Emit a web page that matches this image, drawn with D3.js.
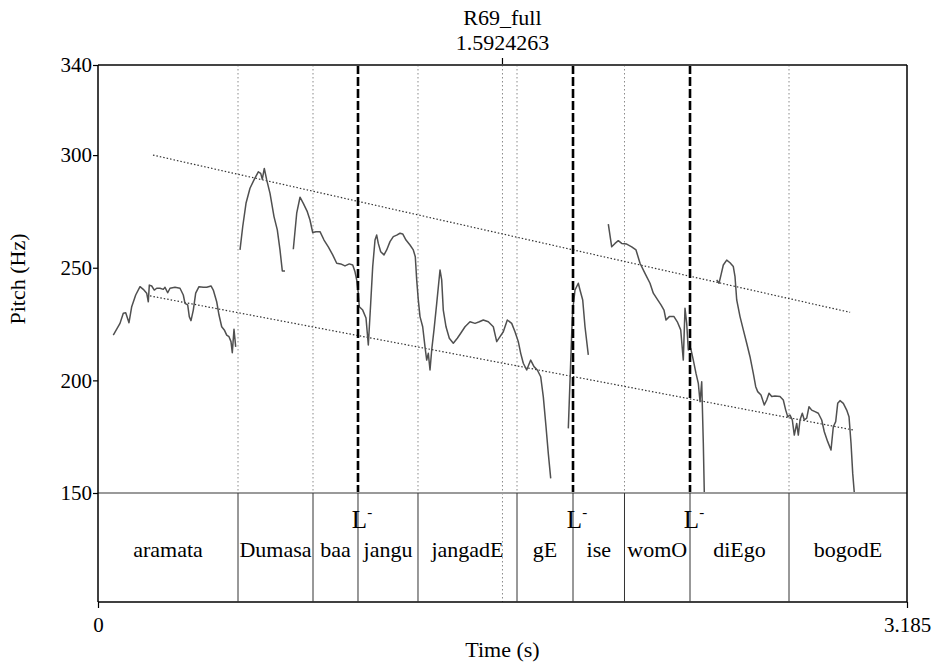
<!DOCTYPE html>
<html><head><meta charset="utf-8">
<script src="https://cdn.jsdelivr.net/npm/d3@7"></script>
<style>body{margin:0;background:#fff}svg{display:block}text{font-family:"Liberation Serif","Times New Roman",Times,serif;fill:#000}</style>
</head><body><svg id="c" width="933" height="662" font-family="Liberation Serif, Times New Roman, Times, serif"></svg>
<script>
// ---- data ----
const title = "R69_full";
const cursorTime = 1.5924263;
const timeRange = [0, 3.185];
const pitchRange = [150, 340];
const yTicks = [150, 200, 250, 300, 340];
const xTickLabels = ["0", "3.185"];

const words = ["aramata","Dumasa","baa","jangu","jangadE","gE","ise","womO","diEgo","bogodE"];
const wordBounds = [0, 0.5512, 0.8465, 1.0236, 1.2598, 1.6496, 1.8701, 2.0728, 2.3307, 2.7205, 3.185];
const toneTimes = [1.0236, 1.8701, 2.3307];
const toneLabels = ["L", "L", "L"];

const upperLine = [[0.2165, 300.0], [2.961, 230.2]];
const lowerLine = [[0.2047, 237.5], [2.972, 178.0]];

const seg1T = [0.0602,0.0736,0.0866,0.0996,0.1091,0.1220,0.1327,0.1484,0.1654,0.1783,0.1917,0.1980,0.2020,0.2114,0.2217,0.2311,0.2441,0.2571,0.2638,0.2744,0.2835,0.3031,0.3228,0.3358,0.3425,0.3531,0.3594,0.3661,0.3752,0.3846,0.3976,0.4146,0.4280,0.4449,0.4539,0.4673,0.4764,0.4870,0.4972,0.5067,0.5157,0.5236,0.5287,0.5354,0.5421];
const seg1F = [220.1,222.7,225.3,229.8,230.0,225.6,232.7,237.9,241.6,240.4,238.7,234.9,242.3,241.9,240.1,240.9,240.9,240.4,241.3,238.9,240.9,241.3,240.9,237.9,234.2,233.5,228.3,226.5,231.2,238.7,241.6,241.3,241.3,241.9,240.1,234.9,229.0,223.8,222.4,220.1,219.4,217.2,212.3,222.7,214.9];

const seg2T = [0.5591,0.5697,0.5827,0.5984,0.6142,0.6311,0.6406,0.6469,0.6547,0.6642,0.6772,0.6929,0.7059,0.7165,0.7256,0.7362];
const seg2F = [257.9,268.2,278.6,285.3,289.0,292.6,291.9,289.3,294.1,289.0,283.0,272.7,266.8,257.9,248.6,248.6];

const seg3T = [0.7689,0.7823,0.7953,0.8083,0.8240,0.8346,0.8453,0.8583,0.8740,0.8898,0.9067,0.9240,0.9398,0.9555,0.9724,0.9894,1.0028,1.0118,1.0185,1.0248,1.0287,1.0421,1.0551,1.0642,1.0736,1.0815,1.0906,1.0972,1.1035,1.1130,1.1260,1.1366,1.1496,1.1626,1.1760,1.1890,1.1996,1.2126,1.2283,1.2413,1.2492,1.2547,1.2610,1.2677,1.2783,1.2874,1.2941,1.3004,1.3071,1.3138,1.3228,1.3335,1.3465,1.3531,1.3594,1.3701,1.3831,1.3988,1.4146,1.4280,1.4449,1.4646,1.4843,1.5012,1.5169,1.5366,1.5563,1.5697,1.5827,1.5957,1.6114,1.6287,1.6417,1.6547,1.6642,1.6744,1.6878,1.7035,1.7165,1.7295,1.7429,1.7531,1.7638,1.7728,1.7823];
const seg3F = [258.2,274.2,281.3,278.6,274.9,271.2,265.6,266.0,266.0,262.3,259.3,255.7,252.0,251.7,250.8,251.7,251.2,248.2,244.6,238.7,232.7,231.2,227.7,215.7,234.2,250.5,262.3,264.5,260.8,257.1,255.7,257.9,261.6,263.8,264.5,265.3,265.0,262.3,260.1,257.9,254.9,244.6,235.7,228.3,223.8,214.9,209.0,212.0,204.6,213.5,222.4,234.2,249.0,244.6,231.2,223.8,218.7,216.5,218.7,220.9,223.8,226.0,225.3,226.0,226.8,226.0,223.8,217.2,219.4,221.6,226.8,225.3,221.6,217.2,212.0,207.6,204.6,209.0,206.1,204.6,201.6,192.8,179.4,167.6,156.5];

const seg4T = [1.8516,1.8650,1.8689,1.8780,1.8909,1.8976,1.9083,1.9173,1.9303];
const seg4F = [178.7,220.9,231.2,240.1,243.1,240.1,235.7,223.8,211.3];

const seg5T = [2.0091,2.0224,2.0354,2.0484,2.0618,2.0815,2.1012,2.1181,2.1339,2.1535,2.1732,2.1862,2.1996,2.2165,2.2283,2.2362,2.2492,2.2677,2.2807,2.2941,2.3043,2.3110,2.3177,2.3240,2.3335,2.3437,2.3543,2.3634,2.3701,2.3768,2.3831,2.3870];
const seg5F = [269.4,259.3,260.8,262.0,260.8,260.5,259.3,257.9,252.0,247.5,243.1,238.7,236.4,233.5,231.2,226.8,228.3,228.3,226.0,222.4,209.0,232.0,225.3,213.5,214.2,209.0,203.1,198.7,190.5,199.4,172.1,150.0];

const seg6T = [2.4358,2.4449,2.4528,2.4618,2.4752,2.4882,2.5012,2.5079,2.5146,2.5276,2.5406,2.5539,2.5669,2.5799,2.5894,2.5972,2.6102,2.6232,2.6327,2.6417,2.6524,2.6654,2.6850,2.6980,2.7075,2.7154,2.7244,2.7335,2.7413,2.7508,2.7571,2.7638,2.7728,2.7807,2.7902,2.7992,2.8098,2.8228,2.8358,2.8492,2.8594,2.8728,2.8858,2.8949,2.9043,2.9122,2.9213,2.9343,2.9476,2.9567,2.9646,2.9713,2.9776];
const seg6F = [244.6,243.1,246.8,251.2,253.4,252.2,250.5,246.0,235.7,228.3,222.4,216.5,210.5,203.1,197.2,195.0,193.5,189.1,191.3,194.3,192.8,193.1,192.8,191.3,186.8,183.9,184.6,182.4,175.7,180.9,175.7,182.4,185.4,182.4,183.2,188.3,186.8,186.1,185.4,182.4,177.2,172.8,169.1,179.4,181.7,189.8,191.0,189.8,186.8,183.9,172.1,158.7,150.0];

const segments = [[seg1T,seg1F],[seg2T,seg2F],[seg3T,seg3F],[seg4T,seg4F],[seg5T,seg5F],[seg6T,seg6F]];

// ---- layout ----
const FONT = '"Liberation Serif","Times New Roman",Times,serif';
const L = 98, R = 907, T = 65, P = 493, B = 602;
const svg = d3.select("#c");
const x = d3.scaleLinear().domain(timeRange).range([L, R]);
const y = d3.scaleLinear().domain(pitchRange).range([P, T]);

// title
svg.append("text").attr("x", x(cursorTime)).attr("y", 25).attr("text-anchor","middle").attr("font-size",22).text(title);
svg.append("text").attr("x", x(cursorTime)).attr("y", 50).attr("text-anchor","middle").attr("font-size",22).text(cursorTime.toFixed(7));

// dotted word boundaries in pitch area (non-tone)
const toneSet = new Set(toneTimes.map(String));
const inner = wordBounds.slice(1, -1);
svg.selectAll(".wb").data(inner.filter(t => !toneSet.has(String(t)))).join("line")
  .attr("x1", d => x(d)).attr("x2", d => x(d)).attr("y1", T).attr("y2", P)
  .attr("stroke","#8a8a8a").attr("stroke-width",1).attr("stroke-dasharray","1.5,2.5");

// cursor dotted
svg.append("line").attr("x1", x(cursorTime)).attr("x2", x(cursorTime)).attr("y1", T).attr("y2", B)
  .attr("stroke","#8a8a8a").attr("stroke-width",1).attr("stroke-dasharray","1.5,2.5");
svg.append("line").attr("x1", x(cursorTime)).attr("x2", x(cursorTime)).attr("y1", T-7).attr("y2", T)
  .attr("stroke","#000").attr("stroke-width",1.2);

// regression lines
[upperLine, lowerLine].forEach(l => {
  svg.append("line").attr("x1", x(l[0][0])).attr("y1", y(l[0][1])).attr("x2", x(l[1][0])).attr("y2", y(l[1][1]))
    .attr("stroke","#333").attr("stroke-width",1.2).attr("stroke-dasharray","1.5,2");
});

// pitch curve
const line = d3.line().x(d => x(d[0])).y(d => y(d[1]));
segments.forEach(([ts, fs]) => {
  svg.append("path").datum(ts.map((t,i)=>[t, fs[i]])).attr("d", line)
    .attr("fill","none").attr("stroke","#505050").attr("stroke-width",1.5).attr("stroke-linejoin","round");
});

// tone dashed lines
svg.selectAll(".tl").data(toneTimes).join("line")
  .attr("x1", d => x(d)).attr("x2", d => x(d)).attr("y1", T).attr("y2", P)
  .attr("stroke","#000").attr("stroke-width",2.6).attr("stroke-dasharray","9,3");

// frame
svg.append("line").attr("x1",L).attr("x2",R).attr("y1",T).attr("y2",T).attr("stroke","#444").attr("stroke-width",2);
svg.append("line").attr("x1",L).attr("x2",R).attr("y1",P).attr("y2",P).attr("stroke","#9a9a9a").attr("stroke-width",2);
svg.append("line").attr("x1",L).attr("x2",R).attr("y1",B).attr("y2",B).attr("stroke","#000").attr("stroke-width",1.5);
svg.append("line").attr("x1",L).attr("x2",L).attr("y1",T).attr("y2",B).attr("stroke","#000").attr("stroke-width",1.5);
svg.append("line").attr("x1",R).attr("x2",R).attr("y1",T).attr("y2",B).attr("stroke","#000").attr("stroke-width",1.5);

// tier boundaries
svg.selectAll(".tb").data(inner).join("line")
  .attr("x1", d => x(d)).attr("x2", d => x(d)).attr("y1", P).attr("y2", B)
  .attr("stroke","#333").attr("stroke-width",1);

// word labels
svg.selectAll(".wl").data(words).join("text")
  .attr("x", (d,i) => (x(wordBounds[i]) + x(wordBounds[i+1]))/2).attr("y", 557)
  .attr("text-anchor","middle").attr("font-size",22).text(d => d);

// tone labels
toneTimes.forEach((t,i) => {
  const g = svg.append("text").attr("x", x(t)+4).attr("y", 528).attr("text-anchor","middle").attr("font-size",25);
  g.append("tspan").text(toneLabels[i]);
  g.append("tspan").attr("dy",-11).attr("font-size",15).text("-");
});

// y axis
const ya = svg.append("g").attr("transform",`translate(${L},0)`)
  .call(d3.axisLeft(y).tickValues(yTicks).tickSize(5).tickFormat(d3.format("d")));
ya.attr("font-family", FONT);
ya.select(".domain").remove();
ya.selectAll("text").attr("font-size",21).attr("font-family",FONT).attr("fill","#000").attr("dx",2);
ya.selectAll("line").attr("stroke","#000").attr("stroke-width",1.2);

// x axis (ends only)
const xa = svg.append("g").attr("transform",`translate(0,${B})`)
  .call(d3.axisBottom(x).tickValues(timeRange).tickSize(6).tickFormat((d,i)=>xTickLabels[i]));
xa.attr("font-family", FONT);
xa.select(".domain").remove();
xa.selectAll("text").attr("font-size",21).attr("font-family",FONT).attr("fill","#000").attr("dy","1.0em");
xa.selectAll("line").attr("stroke","#000").attr("stroke-width",1.2);

// axis titles
svg.append("text").attr("x", (L+R)/2).attr("y", 657).attr("text-anchor","middle").attr("font-size",22).text("Time (s)");
svg.append("text").attr("transform",`translate(25,${(T+P)/2}) rotate(-90)`).attr("text-anchor","middle").attr("font-size",22).text("Pitch (Hz)");
</script></body></html>
